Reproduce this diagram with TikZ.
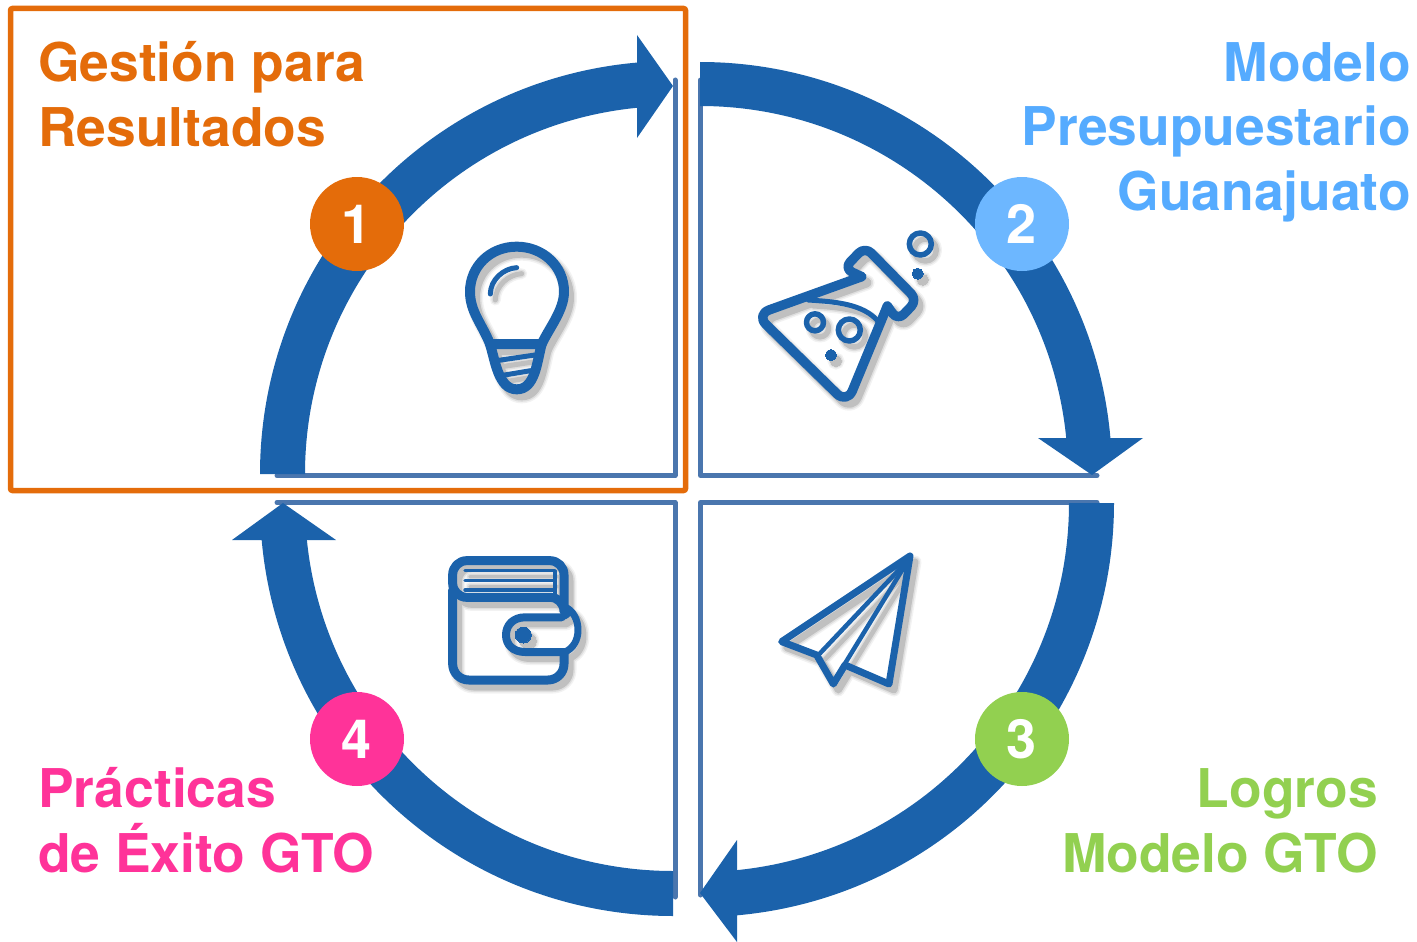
\documentclass[tikz,border=0pt]{standalone}
\usepackage{fontspec}
\setmainfont{TeX Gyre Heros}
\usetikzlibrary{calc}
\definecolor{arcblue}{HTML}{1B62AB}
\definecolor{lineblue}{HTML}{4A76AE}
\definecolor{cOrange}{HTML}{E46C0A}
\definecolor{cSky}{HTML}{6DB7FF}
\definecolor{cSkyText}{HTML}{55ABFF}
\definecolor{cGreen}{HTML}{92D050}
\definecolor{cPink}{HTML}{FF3399}
\tikzset{
  frameline/.style={draw=lineblue,line width=5pt,line join=round,line cap=round},
  arcfill/.style={fill=arcblue,draw=none},
  badge/.style={circle,minimum size=94pt,inner sep=0pt,text=white,text height=39pt,text depth=0pt,font=\fontsize{54}{54}\selectfont\bfseries},
  title/.style={inner sep=0pt,font=\fontsize{53.4}{64.5}\selectfont\bfseries},
  ist/.style={draw=\icol,line width={#1pt+\lwx pt},line cap=round,line join=round},
  idot/.style={fill=\icol,draw=\icol,line width={\lwx pt}}
}
\def\icol{arcblue}\def\lwx{0}
\newcommand\iconbulb{%
  \draw[ist=10] (150,372) .. controls (125,310) and (90,275) .. (90,215)
     .. controls (90,140) and (150,80) .. (230,80)
     .. controls (310,80) and (372,140) .. (372,215)
     .. controls (372,270) and (330,320) .. (305,372) -- cycle;
  \draw[ist=10] (150,372) .. controls (165,420) and (175,508) .. (230,508)
     .. controls (285,508) and (290,430) .. (305,372);
  \draw[ist=5] (170,422) -- (285,405);
  \draw[ist=5] (188,466) -- (272,452);
  \draw[ist=5] (151,222) .. controls (151,180) and (190,145) .. (230,143);
}
\newcommand\iconflask{%
  \draw[ist=9.5,rounded corners=14pt] (335,170) -- (18,284) -- (291,551) -- (412,258);
  \draw[ist=9.5,rounded corners=9pt] (335,170) -- (282,145) -- (345,80) -- (502,240) -- (443,302) -- (412,258);
  \draw[ist=5] (175,240) .. controls (250,245) and (340,250) .. (385,305);
  \draw[ist=5.5] (195,307) circle[radius=8.5pt];
  \draw[ist=5.5] (298,330) circle[radius=11pt];
  \draw[ist=5.5] (511,72) circle[radius=11pt];
  \fill[idot] (243,405) circle[radius=5.5pt];
  \fill[idot] (503,161) circle[radius=5.5pt];
}
\newcommand\iconwallet{%
  \draw[ist=9,rounded corners=16pt] (68,150) -- (68,420) -- (402,420) -- (402,338);
  \draw[ist=9,rounded corners=14pt] (402,205) -- (402,62) -- (68,62) -- (68,172) -- (402,172) -- (402,205);
  \draw[ist=3.5] (105,92) -- (375,92) -- (375,170);
  \draw[ist=3.5] (105,122) -- (370,122);
  \draw[ist=3.5] (105,150) -- (370,150);
  \draw[ist=8] (395,232) -- (285,232) .. controls (250,232) and (228,255) .. (228,285)
     .. controls (228,315) and (250,336) .. (285,336) -- (405,336);
  \draw[ist=7] (402,200) .. controls (430,210) and (444,240) .. (444,270)
     .. controls (444,300) and (430,325) .. (405,336);
  \draw[ist=5] (395,232) .. controls (410,232) and (418,222) .. (420,212);
  \fill[idot] (280,285) circle[radius=8pt];
}
\newcommand\iconplane{%
  \draw[ist=7] (435,48) -- (50,305) -- (155,345) -- (205,432) -- (240,375) -- (372,432) -- cycle;
  \draw[ist=4.5] (165,340) -- (425,65);
  \draw[ist=4.5] (225,395) -- (430,60);
}
\newcommand\placeicon[3]{%
  \foreach \lwval/\opval in {6/0.05,3/0.08,0/0.14}{%
    \begin{scope}[shift={(#1+5,#2+6)},x=0.33333pt,y=-0.33333pt,transparency group,opacity=\opval]
      \def\icol{black}\edef\lwx{\lwval}#3
    \end{scope}}%
  \begin{scope}[shift={(#1,#2)},x=0.33333pt,y=-0.33333pt]
    #3
  \end{scope}}
\begin{document}
\begin{tikzpicture}[x=1pt,y=-1pt]
\useasboundingbox (0,0) rectangle (1417,942);
% quadrant frames
\draw[frameline] (277,475.5) -- (675,475.5) -- (675,80);
\draw[frameline] (700.5,80) -- (700.5,475.5) -- (1097,475.5);
\draw[frameline] (1097,502.5) -- (700.5,502.5) -- (700.5,895);
\draw[frameline] (277,502.5) -- (675,502.5) -- (675,897);
% highlight frame
\draw[draw=cOrange,line width=5.5pt,rounded corners=2pt] (10.5,8.5) rectangle (685.5,490.5);
% quarter-ring arrows
\coordinate (cTR) at (700,474);
\coordinate (cBR) at (700,503);
\coordinate (cBL) at (673,503);
\coordinate (cTL) at (673,474);
\fill[arcfill] (cTR) ++(0,-412) arc[start angle=90,end angle=5,radius=412pt]
   -- ($(cTR)+({368*cos(5.6)},{-368*sin(5.6)})$) arc[start angle=5.6,end angle=90,radius=368pt] -- cycle;
\fill[arcfill] (1038,438) -- (1143,438) -- (1092,475) -- cycle;
\fill[arcfill] (cBR) ++(414,0) arc[start angle=0,end angle=-85,radius=414pt]
   -- ($(cBR)+({369*cos(-84.3)},{-369*sin(-84.3)})$) arc[start angle=-84.3,end angle=0,radius=369pt] -- cycle;
\fill[arcfill] (737,840) -- (737,942) -- (700,893) -- cycle;
\fill[arcfill] (cBL) ++(0,413) arc[start angle=-90,end angle=-175,radius=413pt]
   -- ($(cBL)+({368*cos(-174.4)},{-368*sin(-174.4)})$) arc[start angle=-174.4,end angle=-90,radius=368pt] -- cycle;
\fill[arcfill] (232,540) -- (336,540) -- (283,503) -- cycle;
\fill[arcfill] (cTL) ++(-413,0) arc[start angle=180,end angle=95,radius=413pt]
   -- ($(cTL)+({368*cos(95.6)},{-368*sin(95.6)})$) arc[start angle=95.6,end angle=180,radius=368pt] -- cycle;
\fill[arcfill] (637,35) -- (637,138) -- (673,86) -- cycle;
% badges
\node[badge,fill=cOrange] (b1) at (357,224) {1};
\node[badge,fill=cSky] (b2) at (1022,224) {2};
\node[badge,fill=cGreen] (b3) at (1022,739) {3};
\node[badge,fill=cPink] (b4) at (357,739) {4};
% titles
\node[title,text=cOrange,anchor=base west,align=left] (t1) at (38,146) {Gestión para\\Resultados};
\node[title,text=cSkyText,anchor=base east,align=right] (t2) at (1411,210) {Modelo\\Presupuestario\\Guanajuato};
\node[title,text=cGreen,anchor=base east,align=right] (t3) at (1378,872) {Logros\\Modelo GTO};
\node[title,text=cPink,anchor=base west,align=left] (t4) at (38,872) {Prácticas\\de Éxito GTO};
% icons
\placeicon{440}{220}{\iconbulb}
\placeicon{750}{220}{\iconflask}
\placeicon{430}{540}{\iconwallet}
\placeicon{765}{540}{\iconplane}
\end{tikzpicture}
\end{document}
